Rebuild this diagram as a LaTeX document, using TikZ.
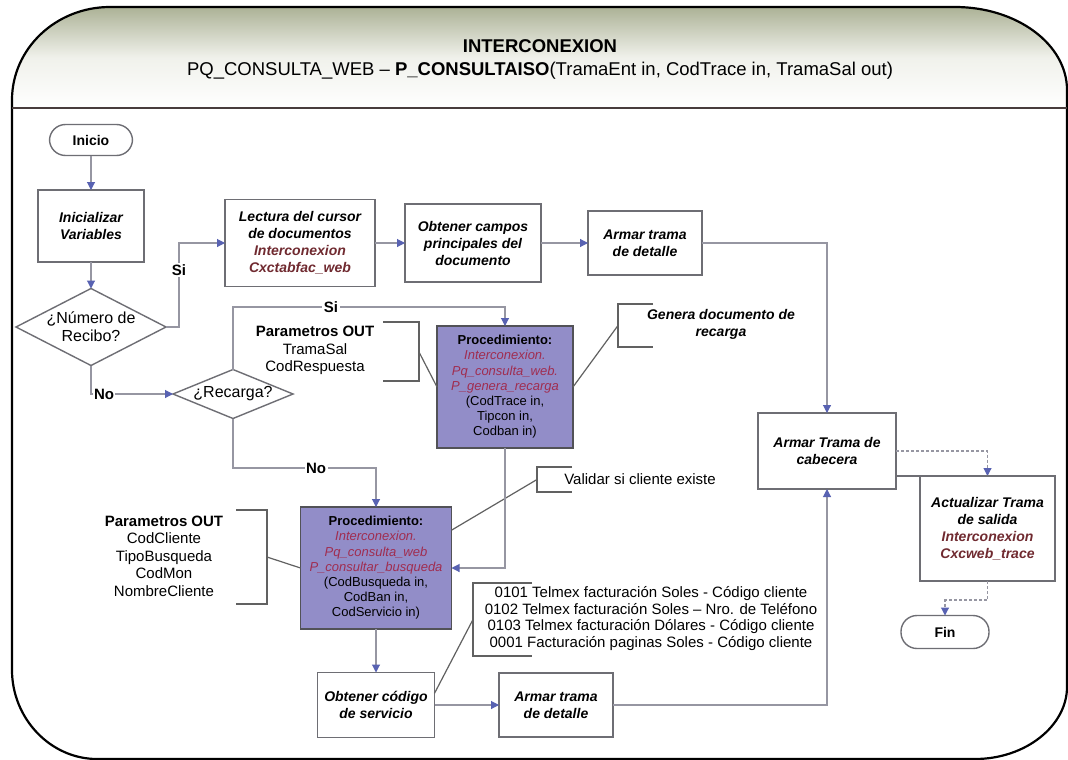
\documentclass[tikz,border=0pt]{standalone}
\usepackage{fontspec}
\setmainfont{Liberation Sans}
\usetikzlibrary{arrows.meta,shapes.geometric,calc}

\definecolor{linegray}{RGB}{150,150,162}
\definecolor{tipblue}{RGB}{88,98,178}
\definecolor{boxline}{RGB}{110,110,116}
\definecolor{procfill}{RGB}{146,141,200}
\definecolor{docred}{RGB}{112,42,48}
\definecolor{procred}{RGB}{160,45,80}
\definecolor{headtint}{RGB}{172,178,150}
\definecolor{headmid}{RGB}{240,241,235}
\definecolor{divider}{RGB}{72,60,60}

\begin{document}
\begin{tikzpicture}[x=1pt,y=-1pt,
  every node/.style={inner sep=0pt, outer sep=0pt},
  stepbox/.style={draw=boxline, line width=1.6pt, fill=white, rectangle, align=center,
    font=\fontsize{14}{17}\selectfont\bfseries\itshape},
  procbox/.style={draw=boxline!75!black, line width=1.6pt, fill=procfill, rectangle, align=center,
    font=\fontsize{13}{15.2}\selectfont},
  terminal/.style={draw=boxline, line width=1.4pt, rectangle, rounded corners=16pt, fill=white,
    font=\fontsize{14}{17}\selectfont\bfseries},
  decision/.style={draw=boxline, line width=1.4pt, diamond, fill=white},
  dectext/.style={align=center, font=\fontsize{16}{18}\selectfont},
  flow/.style={draw=linegray, line width=1.1pt, -{Triangle[length=8pt,width=8pt,color=tipblue]}},
  note/.style={draw=black!62, line width=1.2pt},
  notetext/.style={align=center, font=\fontsize{15}{17.5}\selectfont},
  branch/.style={fill=white, inner sep=1.5pt, font=\fontsize{15}{17}\selectfont\bfseries},
]
% page
\fill[white] (0,0) rectangle (1068,760);
\useasboundingbox (0,0) rectangle (1068,760);

% header band: tint along the upper edge, fading to white
\path[top color=headtint, bottom color=white, middle color=headmid]
  (12,108) -- (12,100) .. controls (12,48.6) and (55.9,7) .. (110,7) -- (955,7)
  .. controls (1016.8,7) and (1067,44.2) .. (1067,90) -- (1067,108) -- cycle;

% outer frame
\draw[line width=2.2pt, line join=round]
  (12,100) .. controls (12,48.6) and (55.9,7) .. (110,7) -- (955,7)
  .. controls (1016.8,7) and (1067,44.2) .. (1067,90) -- (1067,687)
  .. controls (1067,725.6) and (1025.8,759) .. (975,759) -- (97,759)
  .. controls (50.6,759) and (12,718.6) .. (12,670) -- cycle;
\draw[draw=divider, line width=2pt] (12,108) -- (1067,108);

% title
\node[font=\fontsize{18.5}{22}\selectfont\bfseries] (title) at (540,46) {INTERCONEXION};
\node[font=\fontsize{18.5}{22}\selectfont] (signature) at (540,71)
  {PQ\_CONSULTA\_WEB – \textbf{P\_CONSULTAISO}(TramaEnt in, CodTrace in, TramaSal out)};

% flow nodes
\node[terminal, minimum width=83pt, minimum height=31pt] (inicio) at (91,140) {Inicio};
\node[stepbox, minimum width=106pt, minimum height=72pt] (ini) at (91,226) {Inicializar\\Variables};
\node[decision, minimum width=150pt, minimum height=77pt,
  label={[dectext]center:¿Número de\\Recibo?}] (dec1) at (91,327) {};
\node[decision, minimum width=120pt, minimum height=49pt,
  label={[dectext]center:¿Recarga?}] (rec) at (233,394) {};

\node[stepbox, minimum width=150pt, minimum height=87pt] (lect) at (300,243)
  {Lectura del cursor\\de documentos\\\textcolor{docred}{Interconexion}\\\textcolor{docred}{Cxctabfac\_web}};
\node[stepbox, minimum width=136pt, minimum height=78pt] (obt) at (473,243)
  {Obtener campos\\principales del\\documento};
\node[stepbox, minimum width=114pt, minimum height=64pt] (at1) at (645,243) {Armar trama\\de detalle};

\node[procbox, minimum width=136pt, minimum height=122pt] (p1) at (505,387)
  {\textbf{Procedimiento:}\\\textcolor{procred}{\itshape Interconexion.}\\\textcolor{procred}{\itshape Pq\_consulta\_web.}\\\textcolor{procred}{\itshape P\_genera\_recarga}\\(CodTrace in,\\Tipcon in,\\Codban in)};
\node[procbox, minimum width=151pt, minimum height=122pt] (p2) at (376,568)
  {\textbf{Procedimiento:}\\\textcolor{procred}{\itshape Interconexion.}\\\textcolor{procred}{\itshape Pq\_consulta\_web}\\\textcolor{procred}{\itshape P\_consultar\_busqueda}\\(CodBusqueda in,\\CodBan in,\\CodServicio in)};

\node[stepbox, minimum width=117pt, minimum height=65pt] (obc) at (376,705) {Obtener código\\de servicio};
\node[stepbox, minimum width=114pt, minimum height=64pt] (at2) at (556,705) {Armar trama\\de detalle};

\node[stepbox, minimum width=138pt, minimum height=76pt] (cab) at (827,451) {Armar Trama de\\cabecera};
\node[stepbox, minimum width=135pt, minimum height=105pt] (act) at (987.5,528.5)
  {Actualizar Trama\\de salida\\\textcolor{docred}{Interconexion}\\\textcolor{docred}{Cxcweb\_trace}};
\node[terminal, minimum width=88pt, minimum height=33pt] (fin) at (945,632) {Fin};

% annotations
\coordinate (b1) at (419,352);
\draw[note] (383,322) -| (b1) |- (383,381);
\draw[note] (b1) -- (p1.west);
\node[notetext] (b1txt) at (315,350.5) {\textbf{Parametros OUT}\\TramaSal\\CodRespuesta};

\coordinate (b2) at (618,325.5);
\draw[note] (653,304) -| (b2) |- (653,347);
\draw[note] (p1.east) -- (b2);
\node[align=center, font=\fontsize{14}{17}\selectfont\bfseries\itshape] (b2txt) at (721,324.5)
  {Genera documento de\\recarga};

\coordinate (b3) at (537,479.5);
\draw[note] (572,467) -| (b3) |- (572,492);
\draw[note] ($(p2.north east)!0.19!(p2.south east)$) -- (b3);
\node[notetext] (b3txt) at (640,479) {Validar si cliente existe};

\coordinate (b4) at (267,557);
\draw[note] (236,510) -| (b4) |- (236,604);
\draw[note] (b4) -- (p2.west);
\node[notetext] (b4txt) at (164,556)
  {\textbf{Parametros OUT}\\CodCliente\\TipoBusqueda\\CodMon\\NombreCliente};

\coordinate (b5) at (473,619.5);
\draw[note] (532,583) -| (b5) |- (532,656);
\draw[note] ($(obc.north east)!0.32!(obc.south east)$) -- (b5);
\node[align=center, font=\fontsize{15}{16.4}\selectfont] (b5txt) at (651,618.5)
  {0101 Telmex facturación Soles - Código cliente\\0102 Telmex facturación Soles – Nro. de Teléfono\\0103 Telmex facturación Dólares - Código cliente\\0001 Facturación paginas Soles - Código cliente};

% connectors
\coordinate (siA) at (179,0);
\coordinate (siB) at (0,307);
\coordinate (noB) at (0,468);
\coordinate (finjog) at (0,600);

\draw[flow] (inicio.south) -- (ini.north);
\draw[flow] (ini.south) -- (dec1.north);
\draw[flow] (dec1.east) -| (siA |- lect.west) -- (lect.west);
\node[branch] (si1) at (179,270) {Si};
\draw[flow] (dec1.south) |- (rec.west);
\node[branch] (no1) at (104,394) {No};
\draw[flow] (rec.north) -- (rec.north |- siB) -| (p1.north);
\node[branch] (si2) at (331,307) {Si};
\draw[flow] (rec.south) -- (rec.south |- noB) -| (p2.north);
\node[branch] (no2) at (316,468) {No};

\draw[flow] (lect.east) -- (obt.west);
\draw[flow] (obt.east) -- (at1.west);
\draw[flow] (at1.east) -| (cab.north);
\draw[flow] (p1.south) |- (p2.east);
\draw[flow] (p2.south) -- (obc.north);
\draw[flow] (obc.east) -- (at2.west);
\draw[flow] (at2.east) -| (cab.south);
\draw[flow, densely dashed] (cab.east) -| (act.north);
\draw[draw=boxline, line width=2pt] (cab.east |- act.north) -- ($(act.north)+(5.5,0)$);
\draw[flow, densely dashed] (act.south) -- (act.south |- finjog) -| (fin.north);
\end{tikzpicture}
\end{document}
